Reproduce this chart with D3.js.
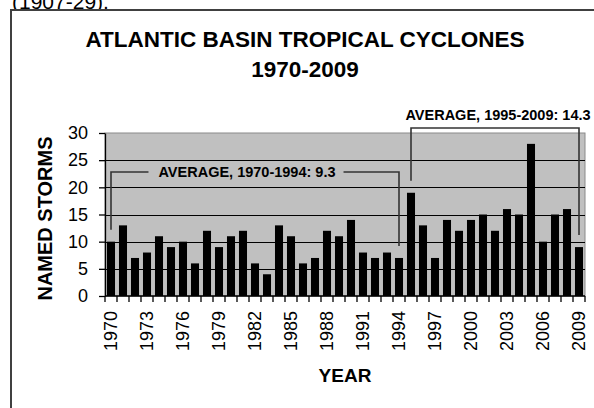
<!DOCTYPE html>
<html>
<head>
<meta charset="utf-8">
<script src="https://cdn.jsdelivr.net/npm/d3@7"></script>
<style>
  html, body { margin: 0; padding: 0; background: #fff; }
  svg { display: block; font-family: Arial, "Liberation Sans", sans-serif; }
  .axis text { fill: #000; }
  .bold { font-weight: bold; }
</style>
</head>
<body>
<svg id="chart" width="594" height="408"></svg>
<script>
const years = d3.range(1970, 2010);
const namedStorms = [
  10, 13, 7, 8, 11, 9, 10, 6, 12, 9,
  11, 12, 6, 4, 13, 11, 6, 7, 12, 11,
  14, 8, 7, 8, 7, 19, 13, 7, 14, 12,
  14, 15, 12, 16, 15, 28, 10, 15, 16, 9,
];
const yTicks = [0, 5, 10, 15, 20, 25, 30];
const labelYears = d3.range(1970, 2010, 3);
const periods = [
  { from: 1970, to: 1994 },
  { from: 1995, to: 2009 },
];
const titleLines = ["ATLANTIC BASIN TROPICAL CYCLONES", "1970-2009"];

const data = years.map((d, i) => ({ year: d, value: namedStorms[i] }));

const margin = { top: 133, right: 9, bottom: 112, left: 105 };
const width = 594, height = 408;

const svg = d3.select("#chart");

const x = d3
  .scaleBand()
  .domain(years)
  .range([margin.left, width - margin.right])
  .paddingInner(0.33)
  .paddingOuter(0.165);
const y = d3
  .scaleLinear()
  .domain([0, 30])
  .range([height - margin.bottom, margin.top]);

// text from the page above the chart, mostly cut off
svg.append("text")
  .attr("x", 12)
  .attr("y", 9)
  .attr("font-size", 21)
  .text("(1907-29).");

// chart frame
svg.append("rect")
  .attr("x", 11)
  .attr("y", 10)
  .attr("width", 620)
  .attr("height", 440)
  .attr("fill", "#fff")
  .attr("stroke", "#404040")
  .attr("stroke-width", 2);

svg.append("g")
  .selectAll("text")
  .data(titleLines)
  .join("text")
  .attr("class", "bold")
  .attr("x", 305)
  .attr("y", (d, i) => 47 + i * 30)
  .attr("text-anchor", "middle")
  .attr("font-size", 22.5)
  .text((d) => d);

// plot area
svg.append("rect")
  .attr("x", margin.left)
  .attr("y", margin.top)
  .attr("width", width - margin.right - margin.left)
  .attr("height", y(0) - y(30))
  .attr("fill", "#c0c0c0")
  .attr("stroke", "#8a8a8a")
  .attr("stroke-width", 1);

svg.append("g")
  .attr("transform", `translate(${margin.left},0)`)
  .call(
    d3.axisLeft(y)
      .tickValues(yTicks.filter((d) => d > 0 && d < 30))
      .tickSize(-(width - margin.right - margin.left))
      .tickFormat("")
  )
  .call((g) => g.select(".domain").remove())
  .call((g) => g.selectAll(".tick line").attr("stroke", "#000").attr("shape-rendering", "crispEdges"));

svg.append("g")
  .selectAll("rect")
  .data(data)
  .join("rect")
  .attr("x", (d) => x(d.year))
  .attr("y", (d) => y(d.value))
  .attr("width", x.bandwidth())
  .attr("height", (d) => y(0) - y(d.value))
  .attr("fill", "#000");

// y axis
svg.append("g")
  .attr("class", "axis")
  .attr("transform", `translate(${margin.left},0)`)
  .call(d3.axisLeft(y).tickValues(yTicks).tickSize(6).tickPadding(11).tickSizeOuter(0))
  .call((g) => g.selectAll("text").attr("font-size", 18).attr("font-family", null))
  .call((g) => g.selectAll("line, path").attr("stroke", "#000").attr("stroke-width", 1.3));

// x axis: tick marks between bars, labels every three years
const step = x.step();
const gX = svg.append("g")
  .attr("class", "axis")
  .attr("transform", `translate(0,${y(0)})`);
gX.append("line")
  .attr("x1", margin.left)
  .attr("x2", width - margin.right)
  .attr("stroke", "#000")
  .attr("stroke-width", 1.3);
gX.selectAll(".tick-mark")
  .data([...years, 2010])
  .join("line")
  .attr("class", "tick-mark")
  .attr("x1", (d) => margin.left + (d - 1970) * step)
  .attr("x2", (d) => margin.left + (d - 1970) * step)
  .attr("y2", 6)
  .attr("stroke", "#000")
  .attr("stroke-width", 1.3);
gX.selectAll(".tick-label")
  .data(labelYears)
  .join("text")
  .attr("class", "tick-label")
  .attr("transform", (d) => `translate(${x(d) + x.bandwidth() / 2},15) rotate(-90)`)
  .attr("text-anchor", "end")
  .attr("dy", "0.35em")
  .attr("font-size", 18)
  .text((d) => d);

// axis titles
svg.append("text")
  .attr("class", "bold")
  .attr("transform", `translate(52,${(y(0) + y(30)) / 2 + 4}) rotate(-90)`)
  .attr("text-anchor", "middle")
  .attr("font-size", 20)
  .text("NAMED STORMS");

svg.append("text")
  .attr("class", "bold")
  .attr("x", (margin.left + width - margin.right) / 2)
  .attr("y", 382)
  .attr("text-anchor", "middle")
  .attr("font-size", 19)
  .text("YEAR");

// average brackets
const center = (yr) => x(yr) + x.bandwidth() / 2;
const valueOf = (yr) => namedStorms[years.indexOf(yr)];
const gap = 12;
periods.forEach((p) => {
  p.avg = d3.mean(data.filter((d) => d.year >= p.from && d.year <= p.to), (d) => d.value);
  p.label = `AVERAGE, ${p.from}-${p.to}: ${d3.format(".1f")(p.avg)}`;
});

const gAnn = svg.append("g")
  .attr("fill", "none")
  .attr("stroke", "#333")
  .attr("stroke-width", 1.6);

// 1970-1994: label sits inside the bracket line
{
  const p = periods[0];
  const lineY = 172;
  const x1 = center(p.from), x2 = center(p.to);
  const label = svg.append("text")
    .attr("class", "bold")
    .attr("x", 247)
    .attr("y", lineY + 5)
    .attr("text-anchor", "middle")
    .attr("font-size", 14.5)
    .text(p.label);
  const w = label.node().getComputedTextLength();
  gAnn.append("path").attr("d", `M${x1},${y(valueOf(p.from)) - gap}V${lineY}H${247 - w / 2 - 10}`);
  gAnn.append("path").attr("d", `M${247 + w / 2 + 8},${lineY}H${x2}V${y(valueOf(p.to)) - gap}`);
}

// 1995-2009: label above the bracket line
{
  const p = periods[1];
  const lineY = 128;
  const x1 = center(p.from), x2 = center(p.to);
  svg.append("text")
    .attr("class", "bold")
    .attr("x", (x1 + x2) / 2 + 3)
    .attr("y", 120)
    .attr("text-anchor", "middle")
    .attr("font-size", 14.5)
    .text(p.label);
  gAnn.append("path").attr("d", `M${x1},${y(valueOf(p.from)) - gap}V${lineY}H${x2}V${y(valueOf(p.to)) - gap}`);
}
</script>
</body>
</html>
